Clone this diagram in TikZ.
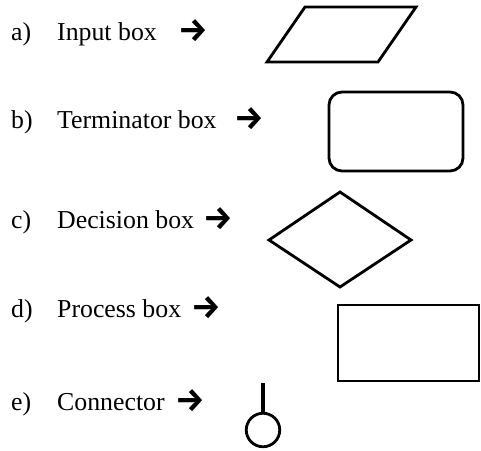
\documentclass[tikz,border=0pt]{standalone}
\usepackage{fontspec}
\setmainfont{Liberation Serif}
\newfontfamily\arrowfont{Fira Sans}
\begin{document}
\begin{tikzpicture}[x=1pt,y=-1pt,
  shapeline/.style={draw=black,line width=2.8pt},
  lbl/.style={inner sep=0pt,anchor=base west,font=\fontsize{25.8}{31}\selectfont},
  arr/.style={inner sep=0pt,anchor=base,font=\arrowfont\bfseries\fontsize{33}{38}\selectfont}]
\useasboundingbox (0,0) rectangle (481,450);
% labels
\node[lbl] (la) at (11,40) {a)};
\node[lbl] (ta) at (57,40) {Input box};
\node[arr] (aa) at (193.5,41) {→};
\node[lbl] (lb) at (11,128) {b)};
\node[lbl] (tb) at (57,128) {Terminator box};
\node[arr] (ab) at (249.5,129) {→};
\node[lbl] (lc) at (11,228) {c)};
\node[lbl] (tc) at (57,228) {Decision box};
\node[arr] (ac) at (218.5,229) {→};
\node[lbl] (ld) at (11,317) {d)};
\node[lbl] (td) at (57,317) {Process box};
\node[arr] (ad) at (206.5,318) {→};
\node[lbl] (le) at (11,410) {e)};
\node[lbl] (te) at (57,410) {Connector};
\node[arr] (ae) at (190.5,411) {→};
% input box (parallelogram)
\draw[shapeline,line join=miter] (305,7) -- (416,7) -- (378,62) -- (267,62) -- cycle;
% terminator box
\draw[shapeline,rounded corners=13pt] (329,92) rectangle (463,171);
% decision box
\draw[shapeline,line join=miter] (340,192) -- (411,240) -- (340,287) -- (269,240) -- cycle;
% process box
\draw[shapeline] (338,305) rectangle (479,381);
% connector
\node[shapeline,circle,minimum size=33.5pt,inner sep=0pt] (circ) at (263,430) {};
\coordinate (ctop) at (263,383);
\draw[draw=black,line width=3.5pt] (ctop) -- (circ.north);
\end{tikzpicture}
\end{document}
